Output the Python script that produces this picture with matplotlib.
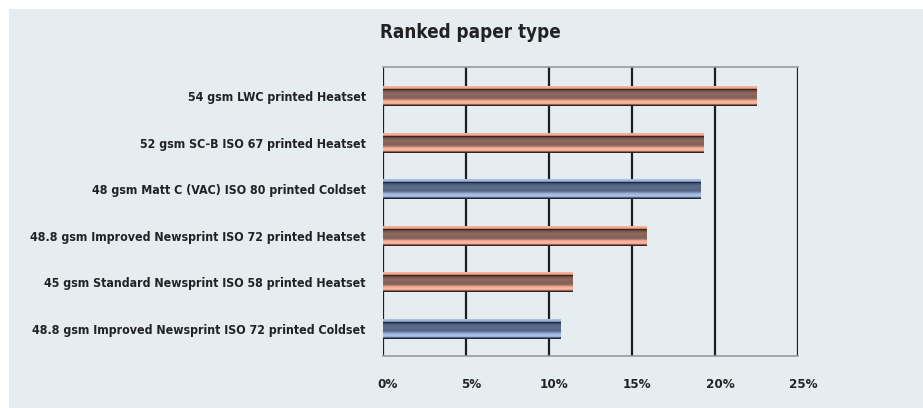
import numpy as np
import matplotlib.pyplot as plt
import matplotlib.transforms as mtransforms
from matplotlib.colors import to_rgb
from matplotlib.patches import Rectangle

plt.rcParams['font.family'] = ['DejaVu Sans']
plt.rcParams['font.stretch'] = 'condensed'
plt.rcParams['font.weight'] = 'bold'

labels = [
    '54 gsm LWC printed Heatset',
    '52 gsm SC-B ISO 67 printed Heatset',
    '48 gsm Matt C (VAC) ISO 80 printed Coldset',
    '48.8 gsm Improved Newsprint ISO 72 printed Heatset',
    '45 gsm Standard Newsprint ISO 58 printed Heatset',
    '48.8 gsm Improved Newsprint ISO 72 printed Coldset',
]
shares = [22.5, 19.3, 19.1, 15.9, 11.4, 10.7]
process = ['Heatset', 'Heatset', 'Coldset', 'Heatset', 'Heatset', 'Coldset']
ticks = [0, 5, 10, 15, 20, 25]

# horizontal stripe profiles (top to bottom) that give the tube look
copper = ['#f6b39c', '#f2a991', '#c9876f', '#3a231d', '#684740', '#78574d',
          '#86635a', '#8c685e', '#8c685e', '#896559', '#866258', '#84605a',
          '#966f64', '#b08073', '#eea38a', '#f6b099', '#f8b9a4', '#f1a993',
          '#95604f', '#362420']
steel = ['#a7bfe2', '#9cb4d8', '#7d94ba', '#1e2838', '#3f4e66', '#4c5c76',
         '#56678a', '#5a6b8a', '#5a6b8a', '#586989', '#566787', '#546482',
         '#64769a', '#7b90b4', '#98b0d4', '#a2bade', '#a9c0e2', '#9ab1d4',
         '#52648a', '#1c2636']
stripes = {'Heatset': np.array([to_rgb(c) for c in copper])[:, None, :],
           'Coldset': np.array([to_rgb(c) for c in steel])[:, None, :]}

fig = plt.figure(figsize=(9.23, 4.08), dpi=100)
fig.patch.set_facecolor('white')
bg = '#e5edf1'
fig.patches.append(Rectangle((9 / 923, 0), 1, 1 - 9 / 408, transform=fig.transFigure,
                             facecolor=bg, edgecolor='none', zorder=-10))

ax = fig.add_axes([383 / 923, 1 - 355.5 / 408, 415 / 923, 288.5 / 408])
ax.set_facecolor(bg)

y = np.arange(len(labels))[::-1]
h = 0.43
bars = ax.barh(y, shares, height=h, color='none', zorder=3)
for bar, p in zip(bars, process):
    x0, y0 = bar.get_x(), bar.get_y()
    ax.imshow(stripes[p], extent=(x0, x0 + bar.get_width(), y0, y0 + bar.get_height()),
              origin='upper', aspect='auto', interpolation='nearest', zorder=3)

for t in ticks:
    ax.axvline(t, color='#1e1e1e', lw=1.6, zorder=1)

ax.set_xlim(0, 25)
ax.set_ylim(-0.58, 5.63)
ax.set_xticks(ticks)
ax.set_xticklabels([f'{t}%' for t in ticks], fontsize=9.5, color='#222222')
ax.set_yticks(y)
ax.set_yticklabels(labels, fontsize=8.9, color='#222222')
ax.tick_params(axis='x', length=0, pad=16)
ax.tick_params(axis='y', length=0, pad=12.5)

# percent labels sit a little right of their gridlines
shift = mtransforms.ScaledTranslation(5 / 100, 0, fig.dpi_scale_trans)
for lbl in ax.get_xticklabels():
    lbl.set_transform(lbl.get_transform() + shift)

for s in ['left', 'right']:
    ax.spines[s].set_visible(False)
for s in ['top', 'bottom']:
    ax.spines[s].set_color('#9a9a9a')
    ax.spines[s].set_linewidth(1.2)

fig.text(380 / 923, 1 - 33 / 408, 'Ranked paper type', fontsize=13.5, color='#222222',
         ha='left', va='center')

fig.savefig('out.png', dpi=100, facecolor=fig.get_facecolor())
